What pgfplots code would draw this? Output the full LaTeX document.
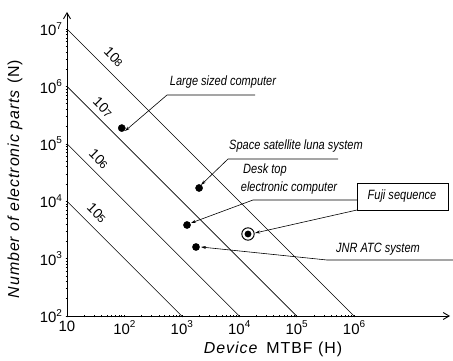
\documentclass[border=0pt]{standalone}
\usepackage{fontspec}
\setmainfont{Liberation Sans}
\newfontfamily\cond[FakeStretch=0.82]{Liberation Sans}
\newfontfamily\wide[LetterSpace=6]{Liberation Sans}
\usepackage{pgfplots}
\pgfplotsset{compat=1.18}
\usetikzlibrary{arrows.meta}
\newcommand{\supr}[1]{\raisebox{0.45em}{\fontsize{10}{10}\selectfont #1}}
\newcommand{\subr}[1]{\raisebox{-0.05em}{\fontsize{11}{11}\selectfont #1}}
\begin{document}
\begin{tikzpicture}[x=1bp,y=1bp]
\useasboundingbox (-67,-44) rectangle (386,316);
\begin{axis}[
  at={(0,0)}, anchor=south west,
  scale only axis, width=383bp, height=304bp,
  xmode=log, ymode=log,
  xmin=10, xmax=4.70e7, ymin=100, ymax=1.98e7,
  axis lines=left,
  axis line style={line width=0.9pt,-{Straight Barb[length=6pt,width=7pt]}},
  xtick={10,100,1000,10000,100000,1000000},
  xticklabels={10,10\supr{2},10\supr{3},10\supr{4},10\supr{5},10\supr{6}},
  ytick={100,1000,10000,100000,1000000,10000000},
  yticklabels={10\supr{2},10\supr{3},10\supr{4},10\supr{5},10\supr{6},10\supr{7}},
  minor tick num=0,
  tick style={black, line width=0.6pt}, major tick length=3pt,
  ticklabel style={font=\fontsize{15}{15}\selectfont},
  xticklabel style={anchor=north},
  clip=false,
]
\addplot[black, line width=0.6pt] coordinates {(10,1e7) (1e6,1e2)};
\addplot[black, line width=0.6pt] coordinates {(10,1e6) (1e5,1e2)};
\addplot[black, line width=0.6pt] coordinates {(10,1e5) (1e4,1e2)};
\addplot[black, line width=0.6pt] coordinates {(10,1e4) (1e3,1e2)};
\addplot[only marks, mark=*, mark size=3.6pt, black] coordinates {
  (90,1.88e5) (2000,1.70e4) (1233,3850) (1767,1593)};
\addplot[only marks, mark=o, mark size=6.2pt, black, line width=1pt] coordinates {(14230,2683)};
\addplot[only marks, mark=*, mark size=3.2pt, black] coordinates {(14230,2683)};
\end{axis}
% axis labels
\node[rotate=90, font=\wide\fontsize{16}{16}\selectfont] at (-52,137) {\textit{Number of electronic parts} (N)};
\node[font=\wide\fontsize{16}{16}\selectfont] at (206,-33) {\textit{Device}\, MTBF (H)};
% line labels
\begin{scope}[every node/.style={rotate=-45, font=\fontsize{14}{14}\selectfont}]
\node at (47,259) {10\subr{8}};
\node at (36,209) {10\subr{7}};
\node at (32,157) {10\subr{6}};
\node at (30,103) {10\subr{5}};
\end{scope}
% annotations
\begin{scope}[line width=0.6pt, every node/.style={font=\cond\itshape\fontsize{13.5}{14}\selectfont}]
\draw[-{Stealth[length=5pt,width=3pt]}] (188,221) -- (100,221) -- (58,185);
\node at (156,234) {Large sized computer};
\draw[-{Stealth[length=5pt,width=3pt]}] (271,157) -- (161,157) -- (134,131);
\node at (229,170) {Space satellite luna system};
\draw[-{Stealth[length=5pt,width=3pt]}] (290,116) -- (186,116) -- (124,93);
\node at (198,146) {Desk top};
\node at (222,128) {electronic computer};
\draw[line width=0.8pt] (290,106) rectangle (381,133);
\node at (335,120) {Fuji sequence};
\draw[-{Stealth[length=5pt,width=3pt]}] (290,106) -- (188,83);
\draw[-{Stealth[length=5pt,width=3pt]}] (386,56) -- (260,56) -- (134,69);
\node at (311,67) {JNR ATC system};
\end{scope}
\end{tikzpicture}
\end{document}
